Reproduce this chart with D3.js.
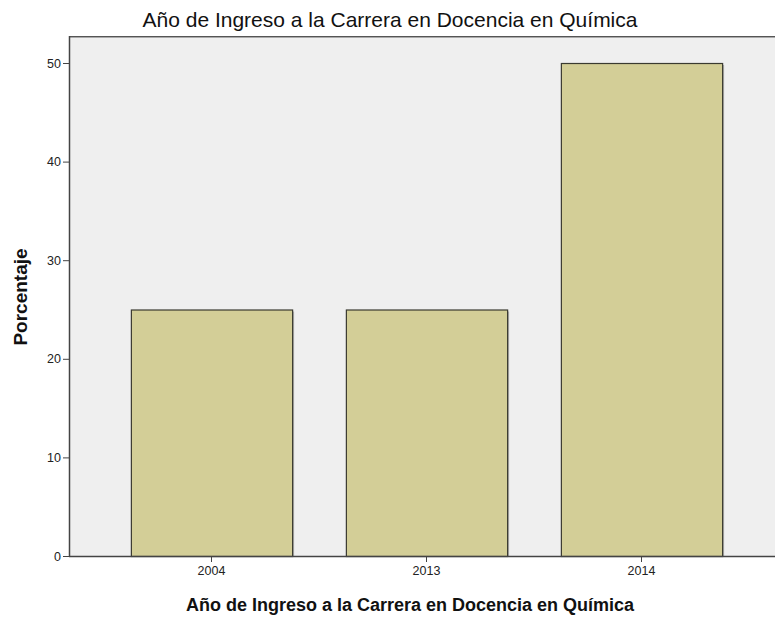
<!DOCTYPE html>
<html>
<head>
<meta charset="utf-8">
<script src="https://cdn.jsdelivr.net/npm/d3@7"></script>
<style>
  body { margin: 0; background: #fff; }
  svg { display: block; font-family: "Liberation Sans", Arial, sans-serif; }
</style>
</head>
<body>
<svg id="chart" width="775" height="618"></svg>
<script>
const years = ["2004", "2013", "2014"];
const percents = [25, 25, 50];
const yTicks = [0, 10, 20, 30, 40, 50];

const width = 775;
const height = 618;
const plotLeft = 69;
const plotTop = 36;
const plotBottom = 556;

const svg = d3.select("#chart");

const x = d3.scaleBand()
  .domain(years)
  .range([104, 749])
  .paddingInner(0.25)
  .paddingOuter(0.125);

const y = d3.scaleLinear()
  .domain([0, 50])
  .range([plotBottom, 63]);

// plot background
svg.append("rect")
  .attr("x", plotLeft)
  .attr("y", plotTop)
  .attr("width", width - plotLeft)
  .attr("height", plotBottom - plotTop)
  .attr("fill", "#efefef");

// top frame line + light shadow
svg.append("line")
  .attr("x1", plotLeft).attr("x2", width)
  .attr("y1", plotTop + 0.5).attr("y2", plotTop + 0.5)
  .attr("stroke", "#555");
svg.append("line")
  .attr("x1", plotLeft).attr("x2", width)
  .attr("y1", plotTop + 1.5).attr("y2", plotTop + 1.5)
  .attr("stroke", "#aaa");

// bars (shadow first)
svg.selectAll(".shadow")
  .data(percents)
  .join("rect")
  .attr("class", "shadow")
  .attr("x", (d, i) => x(years[i]) + 2)
  .attr("y", d => y(d) + 2)
  .attr("width", x.bandwidth())
  .attr("height", d => plotBottom - y(d) - 2)
  .attr("fill", "#b5b5b5");

svg.selectAll(".bar")
  .data(percents)
  .join("rect")
  .attr("class", "bar")
  .attr("x", (d, i) => x(years[i]) + 0.5)
  .attr("y", d => y(d) + 0.5)
  .attr("width", x.bandwidth())
  .attr("height", d => plotBottom - y(d))
  .attr("fill", "#d3ce97")
  .attr("stroke", "#3a3a30")
  .attr("stroke-width", 1.2);

// y axis
const yAxis = d3.axisLeft(y)
  .tickValues(yTicks)
  .tickSize(6)
  .tickPadding(2);
const gy = svg.append("g")
  .attr("transform", `translate(${plotLeft},0)`)
  .call(yAxis);
gy.select(".domain").remove();
gy.selectAll(".tick line").attr("stroke", "#444");
gy.selectAll(".tick text")
  .attr("font-size", 12.5)
  .attr("fill", "#222")
  .attr("font-family", "Liberation Sans, Arial, sans-serif");

// x axis
const xAxis = d3.axisBottom(x).tickSize(6).tickPadding(4);
const gx = svg.append("g")
  .attr("transform", `translate(0,${plotBottom})`)
  .call(xAxis);
gx.select(".domain").remove();
gx.selectAll(".tick line").attr("stroke", "#444");
gx.selectAll(".tick text")
  .attr("font-size", 12.5)
  .attr("fill", "#222")
  .attr("font-family", "Liberation Sans, Arial, sans-serif");

// axis lines
svg.append("line")
  .attr("x1", plotLeft + 0.5).attr("x2", plotLeft + 0.5)
  .attr("y1", plotTop).attr("y2", plotBottom + 1)
  .attr("stroke", "#444").attr("stroke-width", 1.5);
svg.append("line")
  .attr("x1", plotLeft).attr("x2", width)
  .attr("y1", plotBottom + 0.5).attr("y2", plotBottom + 0.5)
  .attr("stroke", "#444").attr("stroke-width", 1.5);

// titles
svg.append("text")
  .attr("x", 390)
  .attr("y", 27)
  .attr("text-anchor", "middle")
  .attr("font-size", 21)
  .attr("fill", "#111")
  .text("Año de Ingreso a la Carrera en Docencia en Química");

svg.append("text")
  .attr("x", 410)
  .attr("y", 611)
  .attr("text-anchor", "middle")
  .attr("font-size", 18)
  .attr("font-weight", "bold")
  .attr("fill", "#111")
  .text("Año de Ingreso a la Carrera en Docencia en Química");

svg.append("text")
  .attr("transform", "translate(27,297) rotate(-90)")
  .attr("text-anchor", "middle")
  .attr("font-size", 19)
  .attr("font-weight", "bold")
  .attr("fill", "#111")
  .text("Porcentaje");
</script>
</body>
</html>
